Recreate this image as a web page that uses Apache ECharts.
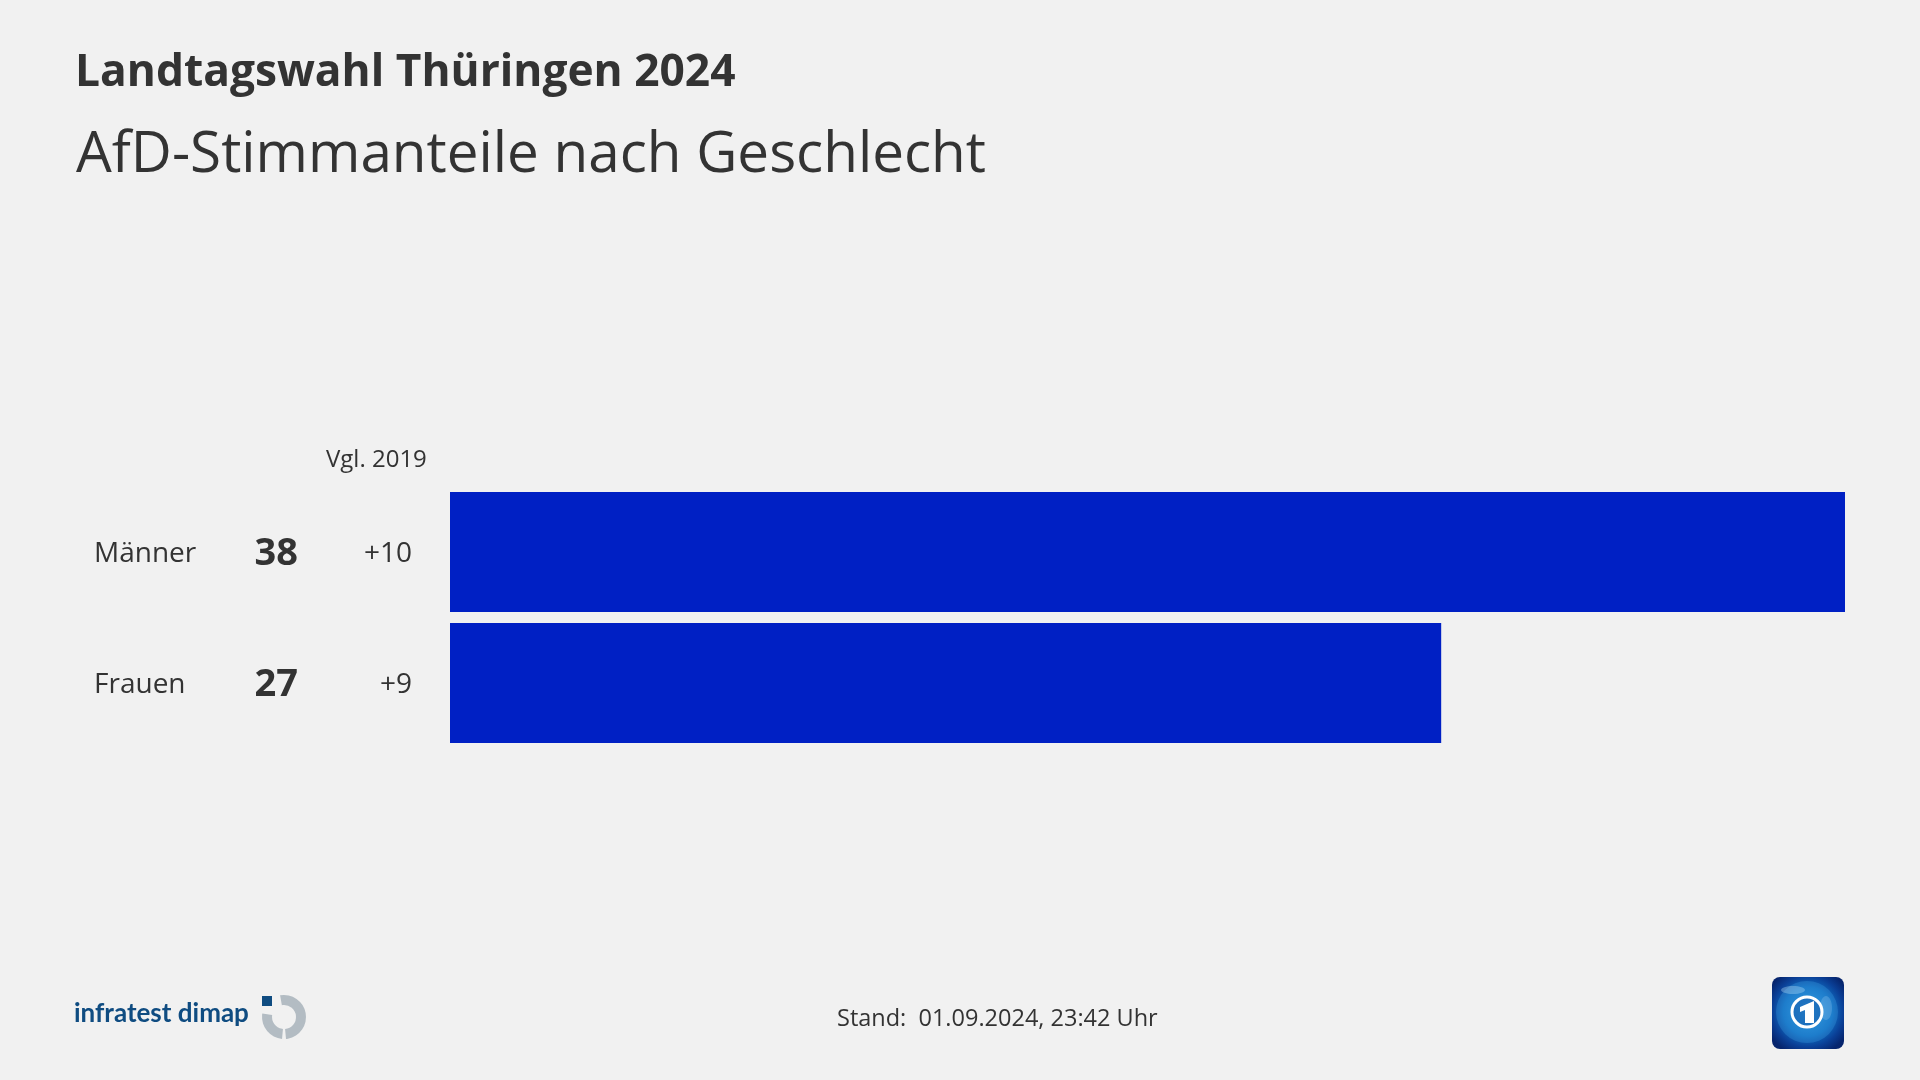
<!DOCTYPE html>
<html>
<head>
<meta charset="utf-8">
<title>AfD-Stimmanteile nach Geschlecht</title>
<script src="https://cdn.jsdelivr.net/npm/echarts@6/dist/echarts.min.js"></script>
<style>
	html, body { margin: 0; padding: 0; background: #f1f1f1; }
	#grafico { width: 1920px; height: 1080px; }
</style>
</head>
<body>
<div id="grafico"></div>
<script>
	// DADOS DO GRAFICO
	var categorias = ['Männer', 'Frauen'];
	var valores = [38, 27];
	var vergleich = ['+10', '+9'];

	var fonte = '"Open Sans", "Noto Sans", sans-serif';
	var corTexto = '#333333';
	var corBarra = '#0020c4';
	var corCinza = '#b3bcc3';
	var corLogo = '#0f4c81';

	var myChart = echarts.init(document.getElementById('grafico'));

	var option = {
		backgroundColor: '#f1f1f1',
		animation: false,
		textStyle: { fontFamily: fonte },
		grid: { left: 450, top: 486.5, width: 1395, height: 262, containLabel: false },
		xAxis: { type: 'value', min: 0, max: 38, show: false },
		yAxis: {
			type: 'category',
			inverse: true,
			data: categorias,
			axisLine: { show: false },
			axisTick: { show: false },
			axisLabel: {
				margin: 38,
				padding: [5, 0, 0, 0],
				// nome | valor | comparacao, cada coluna com largura fixa
				formatter: function(nome, i){
					return '{nome|' + nome + '}{valor|' + valores[i] + '}{vgl|' + vergleich[i] + '}';
				},
				rich: {
					nome: { width: 130, align: 'left', fontSize: 28, color: corTexto, fontFamily: fonte },
					valor: { width: 74, align: 'right', fontSize: 38, fontWeight: 'bold', color: corTexto, fontFamily: fonte },
					vgl: { width: 114, align: 'right', fontSize: 28, color: corTexto, fontFamily: fonte }
				}
			}
		},
		series: [
			{
				type: 'bar',
				data: valores,
				barWidth: 120,
				itemStyle: { color: corBarra }
			}
		],
		graphic: [
			{ type: 'text', left: 75, top: 51, style: { text: 'Landtagswahl Thüringen 2024', font: 'bold 44.3px ' + fonte, fill: corTexto } },
			{ type: 'text', left: 76, top: 127, style: { text: 'AfD-Stimmanteile nach Geschlecht', font: '56.6px ' + fonte, fill: corTexto } },
			{ type: 'text', left: 326, top: 448, style: { text: 'Vgl. 2019', font: '24px ' + fonte, fill: corTexto } },
			{ type: 'text', left: 837, top: 1007, style: { text: 'Stand:  01.09.2024, 23:42 Uhr', font: '23.5px ' + fonte, fill: corTexto } },

			// LOGO INFRATEST DIMAP
			{ type: 'text', left: 74, top: 1001, style: { text: 'infratest dimap', font: 'bold 26px Lato, ' + fonte, fill: corLogo } },
			{ type: 'rect', shape: { x: 262, y: 996, width: 10, height: 10 }, style: { fill: corLogo } },
			{ type: 'sector', shape: { cx: 284, cy: 1017, r: 22, r0: 12, startAngle: -1.75, endAngle: 1.48, clockwise: true }, style: { fill: corCinza } },
			{ type: 'sector', shape: { cx: 284, cy: 1017, r: 22, r0: 12, startAngle: 1.66, endAngle: 3.3, clockwise: true }, style: { fill: corCinza } },

			// LOGO TAGESSCHAU
			{
				type: 'rect',
				shape: { x: 1772, y: 977, width: 72, height: 72, r: 8 },
				style: {
					fill: {
						type: 'radial', x: 0.5, y: 0.48, r: 0.62,
						colorStops: [
							{ offset: 0, color: '#2f9ae0' },
							{ offset: 0.55, color: '#0f6cc0' },
							{ offset: 0.8, color: '#0a3f96' },
							{ offset: 1, color: '#06256e' }
						]
					}
				}
			},
			{ type: 'circle', shape: { cx: 1807, cy: 1012, r: 31 }, style: { fill: 'rgba(70,170,235,0.28)' } },
			{ type: 'ellipse', shape: { cx: 1793, cy: 990, rx: 12, ry: 4 }, style: { fill: 'rgba(190,225,250,0.35)' } },
			{ type: 'ellipse', shape: { cx: 1826, cy: 1008, rx: 6, ry: 12 }, style: { fill: 'rgba(190,225,250,0.22)' } },
			{ type: 'circle', shape: { cx: 1807, cy: 1012, r: 15 }, style: { fill: 'rgba(20,90,170,0.55)', stroke: '#ffffff', lineWidth: 3 } },
			{ type: 'polygon', shape: { points: [[1800, 1007], [1814, 1001], [1814, 1023], [1805, 1023], [1805, 1010], [1800, 1012]] }, style: { fill: '#ffffff' } }
		]
	};
	// aplico as alteracoes de layout no chart
	myChart.setOption(option);
</script>
</body>
</html>
